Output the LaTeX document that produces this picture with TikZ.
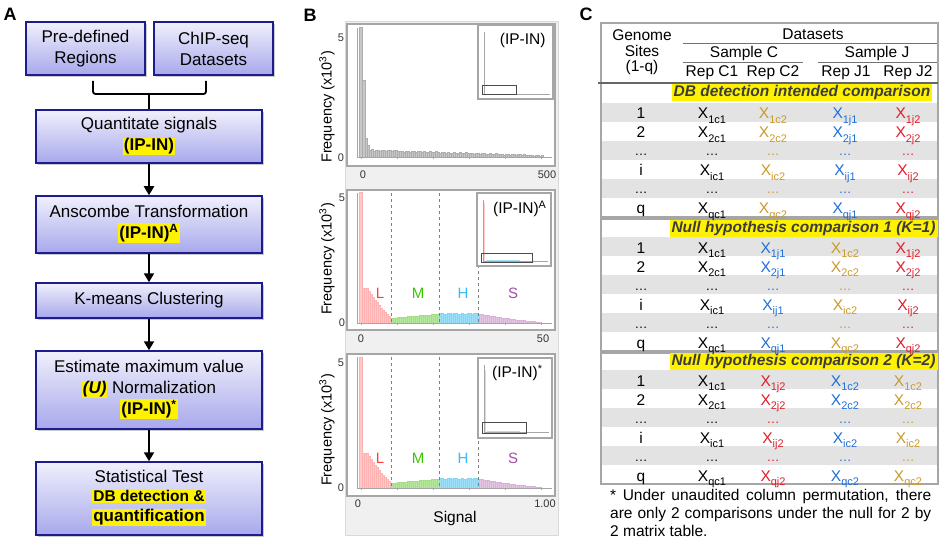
\documentclass[tikz,border=0pt]{standalone}
\usepackage{fontspec}
\setmainfont{Liberation Sans}
\usepackage{tikz}
\usetikzlibrary{arrows.meta, shadows}

\definecolor{boxline}{HTML}{1C1C8E}
\definecolor{boxtop}{HTML}{F0F0FC}
\definecolor{boxbot}{HTML}{A8A8EC}
\definecolor{cgold}{HTML}{C99A2E}
\definecolor{cblue}{HTML}{1E6FD9}
\definecolor{cred}{HTML}{E01E2A}
\definecolor{rowgray}{HTML}{E3E3E3}
\definecolor{framegray}{HTML}{A6A6A6}
\definecolor{titlegray}{HTML}{3C3C3C}

\newcommand{\hlt}[1]{{\setlength{\fboxsep}{1pt}\colorbox{yellow}{\textbf{#1}}}}
\newcommand{\xent}[1]{X\raisebox{-4.5pt}{\fontsize{11}{11}\selectfont #1}}
\newcommand{\clusterbars}{%
  % L
  \filldraw[lbar] (359,0) rectangle (362,-131);
  \foreach \x in {362,364} {\filldraw[lbar] (\x,0) rectangle ++(2,-35);}
  \foreach \x in {366,368,...,389} {\pgfmathsetmacro\hh{6+29*((390-\x)/24)^1.3}\filldraw[lbar] (\x,0) rectangle ++(2,-\hh);}
  % M
  \foreach \x in {391,393,...,437} {\pgfmathsetmacro\hh{5+4*(\x-391)/46}\filldraw[mbar] (\x,0) rectangle ++(2,-\hh);}
  % H
  \foreach \x in {439,441,...,477} {\pgfmathsetmacro\hh{9.5+0.6*sin((\x-439)*53)}\filldraw[hbar] (\x,0) rectangle ++(2,-\hh);}
  % S
  \foreach \x in {479,481,...,539} {\pgfmathsetmacro\hh{1+8*(1-(\x-479)/62)^1.4}\filldraw[sbar] (\x,0) rectangle ++(2,-\hh);}
  \draw[blue!20, line width=0.8pt] (359,0) -- (541,0);
}

\tikzset{
  flowbox/.style={draw=boxline, line width=1.5pt, top color=boxtop, bottom color=boxbot,
    align=center, font=\fontsize{17}{21}\selectfont, inner sep=2pt,
    drop shadow={shadow xshift=2pt, shadow yshift=-2pt, opacity=0.35, fill=black!60}},
  flowarrow/.style={line width=2pt, -{Triangle[length=9pt, width=10pt]}},
  panel/.style={font=\fontsize{18}{18}\selectfont\bfseries},
  plotframe/.style={fill=white, draw=framegray, line width=1.5pt},
  insetframe/.style={draw=framegray, line width=1.6pt},
  axisline/.style={draw=gray!70, line width=0.5pt},
  tick/.style={font=\fontsize{11}{11}\selectfont, text=black!80, inner sep=0pt},
  freq/.style={rotate=90, font=\fontsize{14.5}{15}\selectfont},
  gbar/.style={fill=black!22, draw=black!32, line width=0.25pt},
  lbar/.style={fill=red!22, draw=red!30, line width=0.25pt},
  mbar/.style={fill=green!50!olive!38, draw=green!50!olive!48, line width=0.25pt},
  hbar/.style={fill=cyan!38, draw=cyan!50, line width=0.25pt},
  sbar/.style={fill=violet!22, draw=violet!30, line width=0.25pt},
  clus/.style={font=\fontsize{15}{15}\selectfont},
  cut/.style={draw=gray, dashed, line width=0.4pt},
  cell/.style={anchor=base, font=\fontsize{15.5}{16}\selectfont, inner sep=0pt},
  dotcell/.style={anchor=base, font=\fontsize{13}{13}\selectfont, inner sep=0pt},
  head/.style={font=\fontsize{15.5}{15.5}\selectfont, inner sep=0pt},
  sectitle/.style={fill=yellow, text=titlegray, inner xsep=2pt, inner ysep=1pt,
    font=\fontsize{15.5}{16}\selectfont\bfseries\itshape},
  secframe/.style={draw=framegray, line width=1.5pt}
}

\begin{document}
\begin{tikzpicture}[x=1pt, y=-1pt]
  \useasboundingbox (0,0) rectangle (941,545);

  % Panel A: workflow
  \node[panel] (labA) at (10,14) {A};
  \node[flowbox, minimum width=119pt, minimum height=53pt] (pre) at (85.5,48.5) {Pre-defined\\Regions};
  \node[flowbox, minimum width=119pt, minimum height=53pt] (chip) at (213.5,48.5) {ChIP-seq\\Datasets};
  \node[flowbox, minimum width=226pt, minimum height=53pt] (quant) at (149,136.5) {Quantitate signals\\\hlt{(IP-IN)}};
  \node[flowbox, minimum width=226pt, minimum height=57pt] (ansc) at (149,224.5) {Anscombe Transformation\\\hlt{(IP-IN)\textsuperscript{A}}};
  \node[flowbox, minimum width=226pt, minimum height=35pt] (kmeans) at (149,300.5) {K-means Clustering};
  \node[flowbox, minimum width=226pt, minimum height=78pt] (estim) at (149,390) {Estimate maximum value\\\hlt{\textit{(U)}} Normalization\\\hlt{(IP-IN)\textsuperscript{*}}};
  \node[flowbox, minimum width=226pt, minimum height=73pt] (stat) at (149,498.5) {Statistical Test\\[-2pt]\fontsize{15.5}{18}\selectfont\hlt{DB detection \&}\\[-1pt]\hlt{quantification}};

  % bracket joining the two inputs
  \coordinate (brace) at (149,94);
  \draw[line width=1.8pt, rounded corners=2.5pt] (93,81) |- (brace) -| (206,81);
  \draw[line width=1.8pt] (brace) -- (quant.north);

  \draw[flowarrow] (quant) -- (ansc);
  \draw[flowarrow] (ansc) -- (kmeans);
  \draw[flowarrow] (kmeans) -- (estim);
  \draw[flowarrow] (estim) -- (stat);

  % Panel B: histograms
  \node[panel] (labB) at (310,15) {B};
  \filldraw[fill=black!6, draw=black!15, line width=1pt] (345,22) rectangle (558,535);
  \filldraw[plotframe] (347,24) rectangle (555,166);
  \filldraw[plotframe] (347,190) rectangle (555,330);
  \filldraw[plotframe] (347,354) rectangle (555,496);

  % plot 1, raw signal
  \begin{scope}[shift={(0,157)}]
    \filldraw[gbar] (359,0) rectangle ++(3,-130);
    \filldraw[gbar] (362,0) rectangle ++(3,-77);
    \filldraw[gbar] (365,0) rectangle ++(2,-19);
    \filldraw[gbar] (367,0) rectangle ++(2,-12);
    \foreach \x in {369,371,...,541} {
      \pgfmathsetmacro\hh{1.5+5.5*(1-(\x-369)/174)+0.6*sin((\x-369)*61)}
      \filldraw[gbar] (\x,0) rectangle ++(2,-\hh);
    }
  \end{scope}
  % plot 2 and 3, clustered signal
  \begin{scope}[shift={(0,323)}]
    \clusterbars
  \end{scope}
  \begin{scope}[shift={(0,488)}]
    \clusterbars
  \end{scope}

  % axes
  \foreach \yt/\yb in {28/157, 193/323, 357/488} {
    \draw[axisline] (357,\yt) -- (357,\yb) -- (552,\yb);
    \foreach \x in {361,397,433,469,505,541}
      \draw[axisline] (\x,\yb) -- (\x,\yb+2);
  }
  \foreach \x in {391.5,439,478.5} {
    \draw[cut] (\x,193) -- (\x,323);
    \draw[cut] (\x,357) -- (\x,488);
  }
  \foreach \y in {293,458} {
    \node[clus, text=red!75] (l\y) at (380,\y) {L};
    \node[clus, text=green!55!olive] (m\y) at (418,\y) {M};
    \node[clus, text=cyan!80] (h\y) at (463,\y) {H};
    \node[clus, text=violet!70] (s\y) at (513,\y) {S};
  }

  % tick labels
  \node[tick] (t5a) at (341,38) {5};
  \node[tick] (t0a) at (341,158) {0};
  \node[tick] (x0a) at (363,175) {0};
  \node[tick] (x1a) at (547,175) {500};
  \node[tick] (t5b) at (342,198) {5};
  \node[tick] (t0b) at (342,323) {0};
  \node[tick] (x0b) at (361,339) {0};
  \node[tick] (x1b) at (543,339) {50};
  \node[tick] (t5c) at (341,363) {5};
  \node[tick] (t0c) at (341,488) {0};
  \node[tick] (x0c) at (358,504) {0};
  \node[tick] (x1c) at (545,504) {1.00};
  \node[font=\fontsize{15.5}{16}\selectfont] (signal) at (455,518) {Signal};
  \node[freq] (fa) at (327,107) {Frequency (x10\textsuperscript{3})};
  \node[freq] (fb) at (327,259) {Frequency (x10\textsuperscript{3})};
  \node[freq] (fc) at (327,430) {Frequency (x10\textsuperscript{3})};

  % insets
  \filldraw[insetframe, fill=white] (478,25) rectangle (553,99);
  \draw[axisline] (484,32) -- (484,94) -- (550,94);
  \draw[black!70, line width=0.8pt] (482,85) rectangle (516,94);
  \node[font=\fontsize{15.5}{16}\selectfont, anchor=east] (ia) at (549,40) {(IP-IN)};

  \filldraw[insetframe, fill=white] (477,193) rectangle (551,266);
  \draw[axisline] (483,200) -- (483,261) -- (548,261);
  \draw[red!20, line width=1pt] (484,203) -- (484,261);
  \draw[cyan!35, line width=0.6pt] (486,260.5) -- (520,260.5);
  \draw[black!70, line width=0.8pt] (481,253) rectangle (532,262);
  \node[font=\fontsize{15.5}{16}\selectfont, anchor=east] (ib) at (550,209) {(IP-IN)\textsuperscript{A}};

  \filldraw[insetframe, fill=white] (478,358) rectangle (552,438);
  \draw[axisline] (484,365) -- (484,432) -- (549,432);
  \draw[red!20, line width=1pt] (485,370) -- (485,432);
  \draw[cyan!35, line width=0.6pt] (487,431.5) -- (520,431.5);
  \draw[black!70, line width=0.8pt] (482,422) rectangle (526,433);
  \node[font=\fontsize{15.5}{16}\selectfont, anchor=east] (ic) at (546,373) {(IP-IN)\textsuperscript{*}};

  % Panel C: comparison table
  \node[panel] (labC) at (586,14) {C};
  \foreach \top in {103,237,370}
    \foreach \k in {0,2,4}
      \fill[rowgray] (601,\top+19*\k) rectangle ++(337,19);
  \draw[secframe] (601,23) rectangle (938,217);
  \draw[secframe] (601,219) rectangle (938,351);
  \draw[secframe] (601,353) rectangle (938,484);
  \draw[line width=1.4pt, black!60] (598,83) -- (938,83);
  \draw[black!55, line width=0.8pt] (683,43) -- (937,43);
  \draw[black!55, line width=0.8pt] (683,62) -- (803,62);
  \draw[black!55, line width=0.8pt] (818,62) -- (937,62);

  \node[head, align=center, font=\fontsize{15.5}{15.5}\selectfont] (sites) at (642,52.5) {Genome\\Sites\\(1-q)};
  \node[head] (dsets) at (813,34) {Datasets};
  \node[head] (smpc) at (744,53) {Sample C};
  \node[head] (smpj) at (877,53) {Sample J};
  \node[head] (rc1) at (712,73) {Rep C1};
  \node[head] (rc2) at (773,73) {Rep C2};
  \node[head] (rj1) at (846,73) {Rep J1};
  \node[head] (rj2) at (908,73) {Rep J2};

  \node[sectitle] (sec1) at (802,92.5) {DB detection intended comparison};
  \node[sectitle] (sec2) at (803.5,228.5) {Null hypothesis comparison 1 (K=1)};
  \node[sectitle] (sec3) at (803.5,361.5) {Null hypothesis comparison 2 (K=2)};

  \foreach \top/\cA/\sA/\cB/\sB/\cC/\sC/\cD/\sD in
      {103/black/c1/cgold/c2/cblue/j1/cred/j2,
       237/black/c1/cblue/j1/cgold/c2/cred/j2,
       370/black/c1/cred/j2/cblue/c2/cgold/c2} {
    \foreach \k/\lab in {0/1,1/2,3/i,5/q} {
      \node[cell] (r\top-\k) at (641,\top+19*\k+16) {\lab};
      \node[cell, text=\cA] (e\top-\k-1) at (712,\top+19*\k+16) {\xent{\lab\sA}};
      \node[cell, text=\cB] (e\top-\k-2) at (773,\top+19*\k+16) {\xent{\lab\sB}};
      \node[cell, text=\cC] (e\top-\k-3) at (845,\top+19*\k+16) {\xent{\lab\sC}};
      \node[cell, text=\cD] (e\top-\k-4) at (908,\top+19*\k+16) {\xent{\lab\sD}};
    }
    \foreach \k in {2,4} {
      \node[dotcell] (d\top-\k-0) at (641,\top+19*\k+15) {\dots};
      \node[dotcell, text=\cA] (d\top-\k-1) at (712,\top+19*\k+15) {\dots};
      \node[dotcell, text=\cB] (d\top-\k-2) at (773,\top+19*\k+15) {\dots};
      \node[dotcell, text=\cC] (d\top-\k-3) at (845,\top+19*\k+15) {\dots};
      \node[dotcell, text=\cD] (d\top-\k-4) at (908,\top+19*\k+15) {\dots};
    }
  }

  \node[anchor=north west, inner sep=0pt, text width=321pt, align=justify,
    font=\fontsize{15.5}{18}\selectfont] (note) at (610,489)
    {* Under unaudited column permutation, there are only 2 comparisons under the null for 2 by 2~matrix table.};
\end{tikzpicture}
\end{document}
